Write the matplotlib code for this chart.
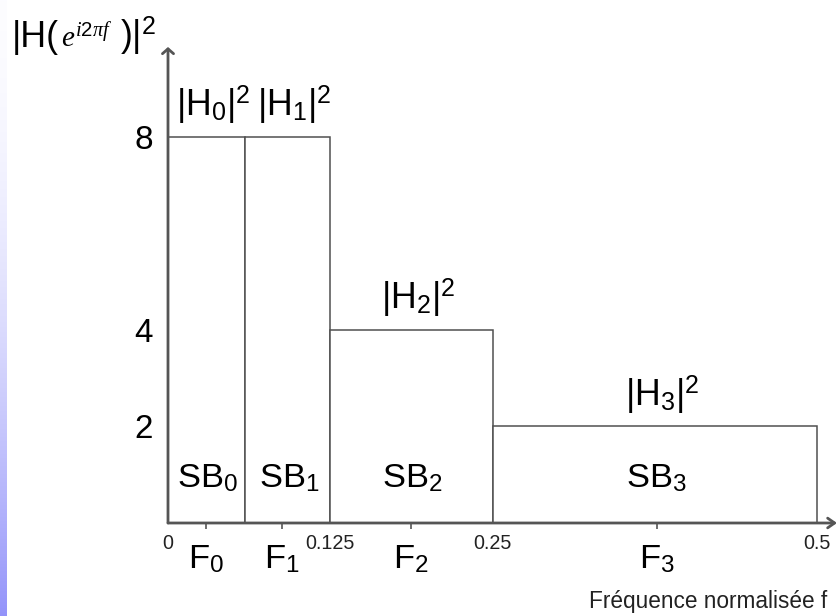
import matplotlib
matplotlib.use("Agg")
import matplotlib.pyplot as plt
from matplotlib import font_manager
import numpy as np

# narrow sans if installed, plain sans otherwise (with a smaller size)
names = {f.name for f in font_manager.fontManager.ttflist}
if 'Liberation Sans Narrow' in names:
    sans, k = 'Liberation Sans Narrow', 1.0
else:
    sans, k = 'Liberation Sans', 0.92

plt.rcParams['font.family'] = [sans, 'DejaVu Sans']
plt.rcParams['mathtext.fontset'] = 'custom'
plt.rcParams['mathtext.rm'] = sans
plt.rcParams['mathtext.sf'] = sans
plt.rcParams['mathtext.it'] = 'Liberation Serif:italic'

# sub-band edges (normalised frequency) and gain of each band
edges = [0, 0.059, 0.125, 0.25, 0.5]
gains = [8, 8, 4, 2]
# centre frequency of each band
centres = [0.029, 0.088, 0.187, 0.377]

gain_labels = ['|H$_{%d}$|$^{2}$' % i for i in range(4)]
band_labels = ['SB$_{%d}$' % i for i in range(4)]
centre_labels = ['F$_{%d}$' % i for i in range(4)]
xticks = [0, 0.125, 0.25, 0.5]
xticklabels = ['0', '0.125', '0.25', '0.5']
yticks = [2, 4, 8]

W, H = 837, 616
fig = plt.figure(figsize=(W/100, H/100), dpi=100)

# blue strip on the left border
strip = fig.add_axes([0, 0, 7/W, 1])
t = np.linspace(0, 1, 300)[:, None]
top = np.array([0.99, 0.99, 1.0])
bot = np.array([0.58, 0.58, 0.98])
grad = top + (bot - top) * (t**1.8)[..., None]
strip.imshow(grad, aspect='auto', extent=[0, 1, 0, 1])
strip.axis('off')

ax = fig.add_axes([168/W, (H-523)/H, 669/W, 476/H])
ax.set_xlim(0, 0.5154)
ax.set_ylim(0, 9.865)
for s in ax.spines.values():
    s.set_visible(False)

left = np.array(edges[:-1])
widths = np.diff(edges)
mids = left + widths/2
ax.bar(left, gains, width=widths, align='edge', facecolor='white',
       edgecolor='#505050', linewidth=1.1, zorder=2)

# axes drawn as arrows
ax.annotate('', xy=(1, 0), xytext=(0, 0), xycoords='axes fraction',
            arrowprops=dict(arrowstyle='->,head_length=0.5,head_width=0.35',
                            color='#555555', lw=2, shrinkA=0, shrinkB=0),
            annotation_clip=False, zorder=3)
ax.annotate('', xy=(0, 1), xytext=(0, 0), xycoords='axes fraction',
            arrowprops=dict(arrowstyle='->,head_length=0.35,head_width=0.4',
                            color='#555555', lw=2, shrinkA=0, shrinkB=0),
            annotation_clip=False, zorder=3)

ax.set_xticks(xticks)
ax.set_xticklabels(xticklabels, fontsize=15.5*k, color='#222222')
ax.tick_params(axis='x', which='major', length=0, pad=8)
ax.set_xticks(centres, minor=True)
ax.set_xticklabels(centre_labels, minor=True, fontsize=27*k)
ax.tick_params(axis='x', which='minor', direction='inout', length=9,
               width=1.2, color='#555555', pad=10)
ax.set_yticks(yticks)
ax.set_yticklabels([str(v) for v in yticks], fontsize=26*k)
ax.tick_params(axis='y', length=0, pad=11)

for x, g, lab in zip(mids, gains, gain_labels):
    ax.annotate(lab, xy=(x, g), xytext=(5, 15), textcoords='offset points',
                ha='center', va='baseline', fontsize=28*k)
for x, lab in zip(mids, band_labels):
    ax.annotate(lab, xy=(x, 0), xytext=(1, 26), textcoords='offset points',
                ha='center', va='baseline', fontsize=27*k)

# y axis title
fig.text(12/W, 1 - 47/H, '|H(', fontsize=28*k, ha='left', va='baseline')
fig.text(61/W, 1 - 47/H, r'$e^{\mathit{i2}\pi f}$', fontsize=21, ha='left', va='baseline')
fig.text(120/W, 1 - 47/H, ')|$^{2}$', fontsize=28*k, ha='left', va='baseline')

# x axis title
fig.text(827/W, 1 - 608/H, 'Fréquence normalisée f', fontsize=16.3,
         family='Liberation Sans', ha='right', va='baseline', color='#222222')

fig.savefig('out.png', dpi=100)
